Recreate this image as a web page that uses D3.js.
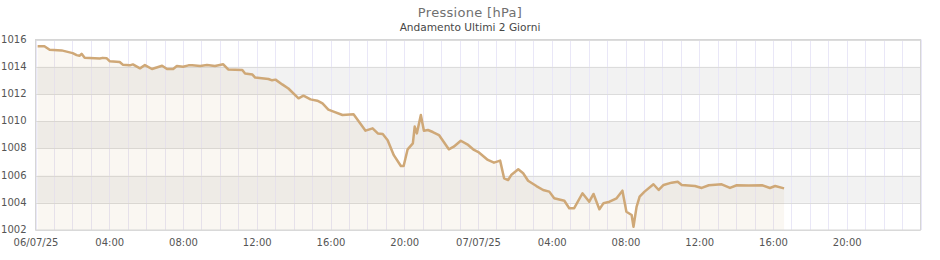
<!DOCTYPE html>
<html>
<head>
<meta charset="utf-8">
<script src="https://cdn.jsdelivr.net/npm/d3@7"></script>
<style>
  body { margin: 0; background: #fff; }
  svg text { font-family: "DejaVu Sans", sans-serif; }
</style>
</head>
<body>
<div id="chart"></div>
<script>

// readings (local time, dd/mm/yy HH:MM) and pressure in hPa
var times = [
  "06/07/25 00:07","06/07/25 00:29","06/07/25 00:46","06/07/25 01:25","06/07/25 02:01","06/07/25 02:14",
  "06/07/25 02:23","06/07/25 02:30","06/07/25 02:40","06/07/25 03:29","06/07/25 03:39","06/07/25 03:52",
  "06/07/25 04:02","06/07/25 04:34","06/07/25 04:44","06/07/25 05:07","06/07/25 05:17","06/07/25 05:40",
  "06/07/25 05:56","06/07/25 06:19","06/07/25 06:52","06/07/25 07:08","06/07/25 07:28","06/07/25 07:40",
  "06/07/25 08:00","06/07/25 08:18","06/07/25 08:30","06/07/25 08:56","06/07/25 09:18","06/07/25 09:44",
  "06/07/25 10:11","06/07/25 10:27","06/07/25 11:13","06/07/25 11:22","06/07/25 11:46","06/07/25 11:55",
  "06/07/25 12:38","06/07/25 12:50","06/07/25 13:01","06/07/25 13:23","06/07/25 13:43","06/07/25 14:16",
  "06/07/25 14:32","06/07/25 14:55","06/07/25 15:17","06/07/25 15:34","06/07/25 15:53","06/07/25 16:10",
  "06/07/25 16:39","06/07/25 17:15","06/07/25 17:54","06/07/25 18:17","06/07/25 18:34","06/07/25 18:50",
  "06/07/25 19:06","06/07/25 19:26","06/07/25 19:49","06/07/25 19:58","06/07/25 20:11","06/07/25 20:28",
  "06/07/25 20:34","06/07/25 20:41","06/07/25 20:54","06/07/25 21:04","06/07/25 21:17","06/07/25 21:33",
  "06/07/25 21:53","06/07/25 22:25","06/07/25 22:41","06/07/25 23:04","06/07/25 23:28","06/07/25 23:47",
  "07/07/25 00:03","07/07/25 00:32","07/07/25 00:52","07/07/25 01:12","07/07/25 01:25","07/07/25 01:38",
  "07/07/25 01:48","07/07/25 02:11","07/07/25 02:27","07/07/25 02:43","07/07/25 03:10","07/07/25 03:32",
  "07/07/25 03:52","07/07/25 04:08","07/07/25 04:41","07/07/25 04:57","07/07/25 05:13","07/07/25 05:40",
  "07/07/25 06:02","07/07/25 06:16","07/07/25 06:35","07/07/25 06:48","07/07/25 07:08","07/07/25 07:31",
  "07/07/25 07:50","07/07/25 08:03","07/07/25 08:20","07/07/25 08:26","07/07/25 08:36","07/07/25 08:46",
  "07/07/25 09:02","07/07/25 09:31","07/07/25 09:48","07/07/25 10:04","07/07/25 10:30","07/07/25 10:50",
  "07/07/25 11:03","07/07/25 11:46","07/07/25 12:08","07/07/25 12:31","07/07/25 13:13","07/07/25 13:40",
  "07/07/25 14:02","07/07/25 14:41","07/07/25 15:24","07/07/25 15:50","07/07/25 16:07","07/07/25 16:36"
];
var pressure = [
  1015.5,1015.5,1015.25,1015.2,1015.0,1014.85,
  1014.8,1014.95,1014.65,1014.6,1014.65,1014.62,
  1014.4,1014.35,1014.15,1014.1,1014.17,1013.88,
  1014.12,1013.83,1014.07,1013.83,1013.83,1014.05,
  1014.0,1014.1,1014.1,1014.05,1014.12,1014.05,
  1014.18,1013.8,1013.76,1013.5,1013.42,1013.2,
  1013.1,1013.0,1013.05,1012.7,1012.4,1011.68,
  1011.87,1011.6,1011.5,1011.3,1010.85,1010.7,
  1010.45,1010.5,1009.3,1009.47,1009.1,1009.05,
  1008.6,1007.5,1006.7,1006.7,1007.93,1008.37,
  1009.6,1009.1,1010.45,1009.3,1009.35,1009.2,
  1008.98,1007.93,1008.12,1008.56,1008.25,1007.88,
  1007.7,1007.15,1006.95,1007.1,1005.8,1005.67,
  1006.04,1006.46,1006.17,1005.62,1005.23,1004.94,
  1004.82,1004.33,1004.15,1003.6,1003.6,1004.7,
  1004.08,1004.65,1003.52,1003.96,1004.08,1004.33,
  1004.89,1003.34,1003.1,1002.24,1003.7,1004.45,
  1004.82,1005.36,1004.94,1005.31,1005.48,1005.55,
  1005.31,1005.23,1005.09,1005.29,1005.36,1005.09,
  1005.29,1005.27,1005.29,1005.09,1005.23,1005.06
];

var yTicks = [1002, 1004, 1006, 1008, 1010, 1012, 1014, 1016];
var period = ["06/07/25 00:00", "08/07/25 00:00"];
var title = "Pressione [hPa]";
var subtitle = "Andamento Ultimi 2 Giorni";

function createChart() {
  var width = 940, height = 260;
  var margin = {top: 39.5, right: 19.5, bottom: 30, left: 35.5};
  var parse = d3.timeParse("%d/%m/%y %H:%M");

  var data = times.map((t, i) => ({date: parse(t), value: pressure[i]}));

  var x = d3.scaleTime()
    .domain(period.map(parse))
    .range([margin.left, width - margin.right]);

  var y = d3.scaleLinear()
    .domain([1002, 1016])
    .range([height - margin.bottom, margin.top]);

  var svg = d3.select("#chart").append("svg")
    .attr("width", width)
    .attr("height", height);

  // titles
  svg.append("text")
    .attr("x", 470).attr("y", 16.5)
    .attr("text-anchor", "middle")
    .attr("fill", "#707070")
    .attr("font-size", 13)
    .attr("letter-spacing", 0.3)
    .text(title);
  svg.append("text")
    .attr("x", 470).attr("y", 30.5)
    .attr("text-anchor", "middle")
    .attr("fill", "#474747")
    .attr("font-size", 10.6)
    .text(subtitle);

  // alternating bands
  var bands = d3.pairs(yTicks).filter((p, i) => i % 2 == 1);
  svg.append("g").selectAll("rect")
    .data(bands)
    .join("rect")
      .attr("x", margin.left)
      .attr("width", width - margin.right - margin.left)
      .attr("y", d => y(d[1]))
      .attr("height", d => y(d[0]) - y(d[1]))
      .attr("fill", "#f2f2f2");

  // hourly vertical grid
  svg.append("g").selectAll("line")
    .data(x.ticks(d3.timeHour.every(1)))
    .join("line")
      .attr("x1", d => Math.round(x(d)) + 0.5)
      .attr("x2", d => Math.round(x(d)) + 0.5)
      .attr("y1", margin.top)
      .attr("y2", height - margin.bottom)
      .attr("stroke", "#e9e7f7")
      .attr("stroke-width", 1);

  // horizontal grid
  svg.append("g").selectAll("line")
    .data(yTicks)
    .join("line")
      .attr("x1", margin.left)
      .attr("x2", width - margin.right)
      .attr("y1", d => Math.round(y(d)) + 0.5)
      .attr("y2", d => Math.round(y(d)) + 0.5)
      .attr("stroke", "#dcdcdc");

  // area under the line
  var area = d3.area()
    .x(d => x(d.date))
    .y0(y(1002))
    .y1(d => y(d.value));
  svg.append("path")
    .datum(data)
    .attr("d", area)
    .attr("fill", "#c9a171")
    .attr("fill-opacity", 0.09);

  var line = d3.line()
    .x(d => x(d.date))
    .y(d => y(d.value));
  svg.append("path")
    .datum(data)
    .attr("d", line)
    .attr("fill", "none")
    .attr("stroke", "#cfa877")
    .attr("stroke-width", 2.5)
    .attr("stroke-linejoin", "round");

  // frame
  svg.append("rect")
    .attr("x", margin.left)
    .attr("y", margin.top)
    .attr("width", width - margin.right - margin.left)
    .attr("height", height - margin.bottom - margin.top)
    .attr("fill", "none")
    .attr("stroke", "#d6d6d6");

  // y axis labels
  svg.append("g")
    .attr("transform", `translate(${margin.left - 9}, 0)`)
    .call(d3.axisLeft(y).tickValues(yTicks).tickSize(0).tickPadding(0).tickFormat(d3.format("d")))
    .call(g => g.select(".domain").remove())
    .call(g => g.selectAll("text")
      .attr("fill", "#555")
      .attr("font-size", 10)
      .attr("font-family", "DejaVu Sans, sans-serif")
      .attr("dy", "0.25em"));

  // x axis labels
  var fmtDay = d3.timeFormat("%d/%m/%y"), fmtHour = d3.timeFormat("%H:%M");
  var xTicks = x.ticks(d3.timeHour.every(4)).filter(d => d < x.domain()[1]);
  svg.append("g")
    .attr("transform", `translate(0, ${height - margin.bottom})`)
    .call(d3.axisBottom(x).tickValues(xTicks).tickSize(0).tickPadding(9)
      .tickFormat(d => d.getHours() == 0 ? fmtDay(d) : fmtHour(d)))
    .call(g => g.select(".domain").remove())
    .call(g => g.selectAll("text")
      .attr("fill", "#555")
      .attr("font-size", 10)
      .attr("font-family", "DejaVu Sans, sans-serif"));

  return svg.node();
}

window.onload = createChart;
</script>
</body>
</html>
